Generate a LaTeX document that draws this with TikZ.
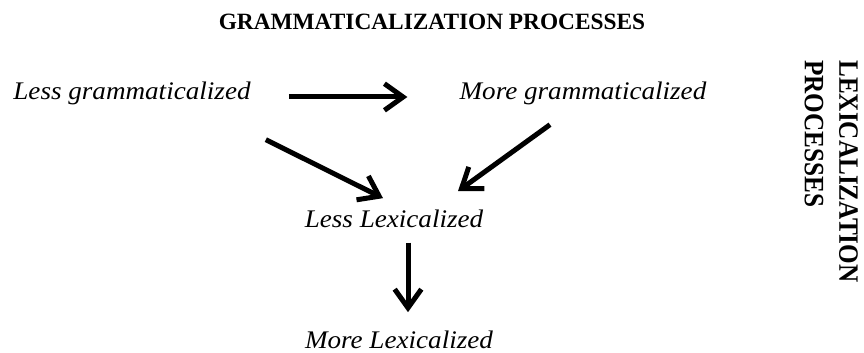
\documentclass[tikz,border=0pt]{standalone}
\usepackage{fontspec}
\setmainfont{Liberation Serif}
\usepackage{graphicx}
\usetikzlibrary{arrows.meta,calc}

\begin{document}
\begin{tikzpicture}[x=0.75pt,y=-0.75pt,
    every node/.style={inner sep=0pt, font=\fontsize{19}{22}\selectfont\itshape},
    arr/.style={line width=3.75pt, -{Straight Barb[length=14pt,width=20pt]}}]
  % canvas 864 x 353 px, 1 px = 0.75 pt, y grows downward
  \useasboundingbox (0,0) rectangle (864,353);

  % -- title --
  \node[anchor=base, font=\fontsize{17.5}{20}\selectfont\bfseries] (title) at (432,30)
    {GRAMMATICALIZATION PROCESSES};

  % -- rotated side label, reads top to bottom --
  \node[anchor=north west, rotate=-90, font=\fontsize{21}{26}\selectfont\bfseries] (lexproc) at (864,60)
    {\scalebox{0.9}[1]{\begin{tabular}{@{}l@{}}LEXICALIZATION\\PROCESSES\end{tabular}}};

  % -- the four stages --
  \node[anchor=base] (lessgram) at (132,99) {\scalebox{1.07}[1]{Less grammaticalized}};
  \node[anchor=base] (moregram) at (583,99) {\scalebox{1.07}[1]{More grammaticalized}};
  \node[anchor=base] (lesslex) at (394,227) {\scalebox{1.07}[1]{Less Lexicalized}};
  \node[anchor=base] (morelex) at (399,348) {\scalebox{1.07}[1]{More Lexicalized}};

  % -- arrows --
  \draw[arr] ($(lessgram.base east)+(38,-2)$) -- ($(moregram.base west)+(-52,-2)$);
  \draw[arr] ($(lessgram.south east)+(15,35)$) -- ($(lesslex.north)+(-11,-11)$);
  \draw[arr] ($(moregram.south)+(-33,20)$) -- ($(lesslex.north)+(64,-18)$);
  \draw[arr] ($(lesslex.south)+(14,15)$) -- ($(morelex.north)+(9,-18)$);
\end{tikzpicture}
\end{document}
